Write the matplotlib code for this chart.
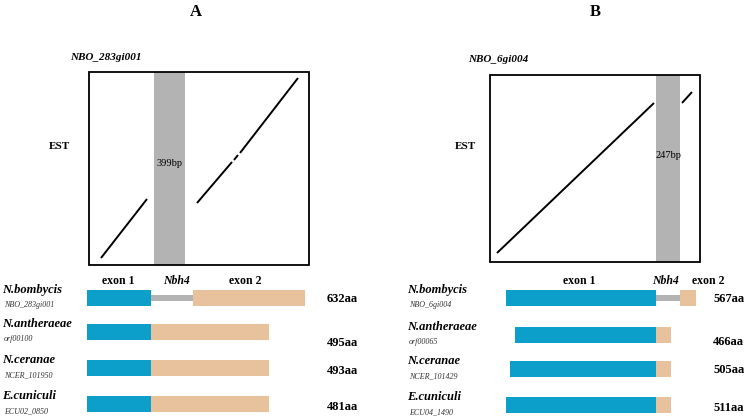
import matplotlib
matplotlib.use("Agg")
import matplotlib.pyplot as plt

plt.rcParams['font.family'] = ['Liberation Serif', 'DejaVu Serif']

W, H = 747, 419
BLUE = '#0b9fc9'
PEACH = '#e8c29c'
GREY = '#b3b3b3'

# ---- panel A data (positions in figure pixels) ----
a_species = ['N.bombycis', 'N.antheraeae', 'N.ceranae', 'E.cuniculi']
a_ids = ['NBO_283gi001', 'orf00100', 'NCER_101950', 'ECU02_0850']
a_len = ['632aa', '495aa', '493aa', '481aa']
a_rows = [298, 332, 368, 404]
a_len_y = [299, 343, 371, 407]
a_ex1 = [(87, 151), (87, 151), (87, 151), (87, 151)]
a_intron = [(151, 193), None, None, None]
a_ex2 = [(193, 305), (151, 269), (151, 269), (151, 269)]
a_box = (89, 72, 309, 265)
a_band = (154, 185)
a_dots = [[(101, 258), (147, 199)],
          [(197, 203), (232, 162)],
          [(234, 160), (238, 155)],
          [(240, 153), (298, 78)]]

# ---- panel B data ----
b_species = ['N.bombycis', 'N.antheraeae', 'N.ceranae', 'E.cuniculi']
b_ids = ['NBO_6gi004', 'orf00065', 'NCER_101429', 'ECU04_1490']
b_len = ['567aa', '466aa', '505aa', '511aa']
b_rows = [298, 335, 369, 405]
b_len_y = [299, 342, 370, 408]
b_ex1 = [(506, 656), (515, 656), (510, 656), (506, 656)]
b_intron = [(656, 680), None, None, None]
b_ex2 = [(680, 696), (656, 671), (656, 671), (656, 671)]
b_box = (490, 75, 700, 262)
b_band = (656, 680)
b_dots = [[(497, 253), (654, 103)],
          [(682, 103), (692, 92)]]

bp_text = {'A': '399bp', 'B': '247bp'}

fig = plt.figure(figsize=(W / 100, H / 100), dpi=100)
ax = fig.add_axes([0, 0, 1, 1])
ax.set_xlim(0, W)
ax.set_ylim(H, 0)
ax.axis('off')


def panel(letter, lx, title, tx, ty, box, band, dots, bp, est_x,
          lab_y, lab_x, species, ids, lens, rows, len_y, ex1, intron, ex2,
          sp_x, len_x):
    ax.text(lx, 12, letter, fontsize=12, fontweight='bold', ha='center', va='center')
    ax.text(tx, ty, title, fontsize=8, fontweight='bold', style='italic', va='center')
    x0, y0, x1, y1 = box
    ax.add_patch(plt.Rectangle((band[0], y0), band[1] - band[0], y1 - y0,
                               color=GREY, lw=0, zorder=1))
    ax.add_patch(plt.Rectangle((x0, y0), x1 - x0, y1 - y0, fill=False,
                               ec='black', lw=1.3, zorder=3))
    for seg in dots:
        xs, ys = zip(*seg)
        ax.plot(xs, ys, color='black', lw=1.4, solid_capstyle='butt', zorder=2)
    ax.text((band[0] + band[1]) / 2, bp, bp_text[letter], fontsize=7.5,
            ha='center', va='center', zorder=4)
    ax.text(est_x, 146, 'EST', fontsize=8, fontweight='bold', ha='center', va='center')
    for (x, t) in zip(lab_x, ['exon 1', 'Nbh4', 'exon 2']):
        ax.text(x, lab_y, t, fontsize=8.5, fontweight='bold',
                style='italic' if t == 'Nbh4' else 'normal', ha='center', va='center')
    for i, y in enumerate(rows):
        ax.barh(y, ex1[i][1] - ex1[i][0], left=ex1[i][0], height=16, color=BLUE, lw=0)
        if intron[i]:
            ax.barh(y, intron[i][1] - intron[i][0], left=intron[i][0], height=6,
                    color=GREY, lw=0)
        ax.barh(y, ex2[i][1] - ex2[i][0], left=ex2[i][0], height=16, color=PEACH, lw=0)
        ax.text(sp_x, y - 8, species[i], fontsize=9, fontweight='bold',
                style='italic', va='center')
        ax.text(sp_x + 2, y + 7, ids[i], fontsize=5.8, style='italic',
                color='#333333', va='center')
        ax.text(len_x, len_y[i], lens[i], fontsize=9, fontweight='bold', va='center')


panel('A', 196, 'NBO_283gi001', 70, 57, a_box, a_band, a_dots, 163, 59,
      281, [118, 176, 245], a_species, a_ids, a_len, a_rows, a_len_y,
      a_ex1, a_intron, a_ex2, 2, 327)
panel('B', 595, 'NBO_6gi004', 468, 60, b_box, b_band, b_dots, 155, 465,
      281, [579, 665, 708], b_species, b_ids, b_len, b_rows, b_len_y,
      b_ex1, b_intron, b_ex2, 407, 713)

fig.savefig('out.png', dpi=100)
